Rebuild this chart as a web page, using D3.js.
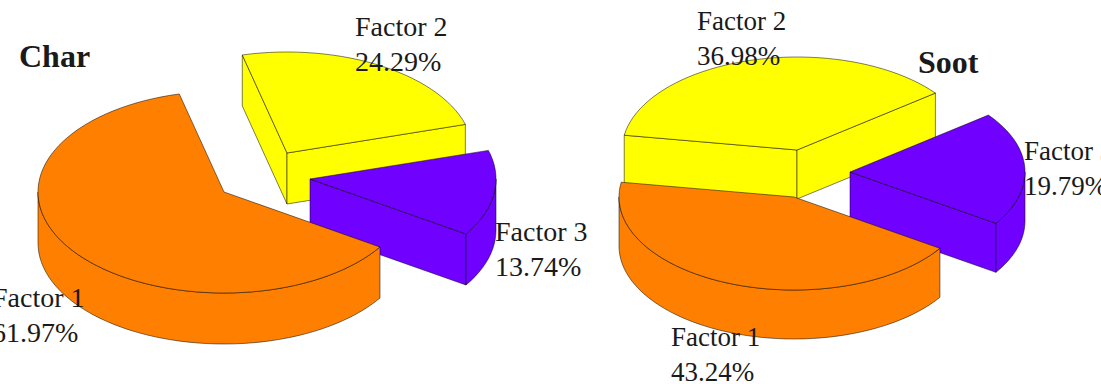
<!DOCTYPE html>
<html lang="en">
<head>
    <meta charset="UTF-8">
    <title>Char and soot factors</title>
    <style>
        html, body { margin: 0; background: #fff; }
        svg { display: block; }
        text { font-family: "Liberation Serif", "Times New Roman", serif; fill: #1a1a1a; }
    </style>
</head>
<body>
<script src="https://cdn.jsdelivr.net/npm/d3@7"></script>
<script>
    var factors = ["Factor 1", "Factor 2", "Factor 3"];
    var charValues = [61.97, 24.29, 13.74];
    var sootValues = [43.24, 36.98, 19.79];
    var sliceColors = ["#ff8000", "#ffff00", "#7000ff"];

    // drawing order: the big orange slice sits in front of the other two
    var drawOrder = [1, 2, 0];

    var charChart = {
        title: "Char", titleX: 19, titleY: 67,
        values: charValues,
        cx: 224, cy: 192, rx: 186, ry: 101, depth: 51, startDeg: 33,
        explode: [[0, 0], [63, -39], [86, -13]],
        labelSize: 28,
        labels: [[-8, 307], [355, 36], [495, 241]]
    };
    var sootChart = {
        title: "Soot", titleX: 918, titleY: 73,
        values: sootValues,
        cx: 797, cy: 197, rx: 175, ry: 93, depth: 49, startDeg: 33.5,
        explode: [[-3, 0], [0, -47], [53, -25]],
        labelSize: 27,
        labels: [[671, 346], [697, 30], [1024, 160]]
    };

    var svg = d3.select("body").append("svg")
            .attr("width", 1101)
            .attr("height", 384);

    var percent = d3.format(".2f");
    var polyline = d3.line();

    function drawPie(chart) {
        var x = d3.scaleLinear().domain([-1, 1]).range([chart.cx - chart.rx, chart.cx + chart.rx]);
        var y = d3.scaleLinear().domain([-1, 1]).range([chart.cy - chart.ry, chart.cy + chart.ry]);

        // d3.pie measures from 12 o'clock, so shift the rotation by a quarter turn
        var start = (chart.startDeg + 90) * Math.PI / 180;
        var arcs = d3.pie().sort(null).startAngle(start).endAngle(start + 2 * Math.PI)(chart.values);

        var g = svg.append("g");

        function rim(off, a0, a1, drop) {
            var n = Math.max(2, Math.ceil((a1 - a0) / 0.05));
            return d3.range(n + 1).map(function(i) {
                var a = a0 + (a1 - a0) * i / n;
                return [x(Math.sin(a)) + off[0], y(-Math.cos(a)) + off[1] + drop];
            });
        }

        function apex(off, drop) {
            return [x(0) + off[0], y(0) + off[1] + drop];
        }

        function shape(points, color) {
            g.append("path")
                    .attr("d", polyline(points) + "Z")
                    .attr("fill", color)
                    .attr("stroke", "#000")
                    .attr("stroke-opacity", 0.5)
                    .attr("stroke-width", 1)
                    .attr("stroke-linejoin", "round");
        }

        drawOrder.forEach(function(i) {
            var d = arcs[i], off = chart.explode[i], color = sliceColors[i];
            var p0 = rim(off, d.startAngle, d.startAngle, 0)[0];
            var p1 = rim(off, d.endAngle, d.endAngle, 0)[0];
            var c = apex(off, 0), down = apex(off, chart.depth);

            // a cut face shows only if its outward normal points down the page
            if (-Math.cos(d.startAngle - Math.PI / 2) > 0) {
                shape([c, p0, [p0[0], p0[1] + chart.depth], down], color);
            }
            if (-Math.cos(d.endAngle + Math.PI / 2) > 0) {
                shape([c, p1, [p1[0], p1[1] + chart.depth], down], color);
            }

            // outer wall, only along the front half of the ellipse
            [[Math.PI / 2, 3 * Math.PI / 2], [5 * Math.PI / 2, 7 * Math.PI / 2]].forEach(function(front) {
                var a0 = Math.max(d.startAngle, front[0]), a1 = Math.min(d.endAngle, front[1]);
                if (a1 > a0) {
                    shape(rim(off, a0, a1, 0).concat(rim(off, a0, a1, chart.depth).reverse()), color);
                }
            });

            shape([c].concat(rim(off, d.startAngle, d.endAngle, 0)), color);
        });

        factors.forEach(function(name, i) {
            var text = svg.append("text")
                    .attr("font-size", chart.labelSize);
            text.append("tspan")
                    .attr("x", chart.labels[i][0])
                    .attr("y", chart.labels[i][1])
                    .text(name);
            text.append("tspan")
                    .attr("x", chart.labels[i][0])
                    .attr("dy", 35)
                    .text(percent(chart.values[i]) + "%");
        });

        svg.append("text")
                .attr("x", chart.titleX)
                .attr("y", chart.titleY)
                .attr("font-size", 32)
                .attr("font-weight", "bold")
                .text(chart.title);
    }

    drawPie(charChart);
    drawPie(sootChart);
</script>
</body>
</html>
